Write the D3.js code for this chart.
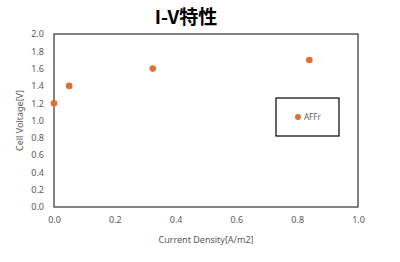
<!DOCTYPE html>
<html>
<head>
<meta charset="utf-8">
<script src="https://cdn.jsdelivr.net/npm/d3@7"></script>
<style>
  body { margin: 0; background: #fff; }
  svg { display: block; font-family: "Noto Sans", "Noto Sans CJK JP", sans-serif; }
</style>
</head>
<body>
<div id="chart"></div>
<script>
// Data
var seriesName = "AFFr";
var currentDensity = [0.0, 0.05, 0.325, 0.84];
var cellVoltage = [1.2, 1.4, 1.6, 1.7];
var xTicks = [0.0, 0.2, 0.4, 0.6, 0.8, 1.0];
var yTicks = [0.0, 0.2, 0.4, 0.6, 0.8, 1.0, 1.2, 1.4, 1.6, 1.8, 2.0];

var svgWidth = 400;
var svgHeight = 262;
var margin = { top: 34, right: 42, bottom: 55, left: 54 };
var width = 358 - margin.left;
var height = 207 - margin.top;

var svg = d3.select("#chart")
    .append("svg")
    .attr("width", svgWidth)
    .attr("height", svgHeight);

var chartGroup = svg.append("g")
    .attr("transform", `translate(${margin.left}, ${margin.top})`);

var xScale = d3.scaleLinear().domain([0, 1]).range([0, width]);
var yScale = d3.scaleLinear().domain([0, 2]).range([height, 0]);

// plot border
chartGroup.append("rect")
    .attr("width", width)
    .attr("height", height)
    .attr("fill", "none")
    .attr("stroke", "#404040")
    .attr("stroke-width", 1.3);

// axes (labels only)
var bottomAxis = d3.axisBottom(xScale).tickValues(xTicks).tickFormat(d3.format(".1f")).tickSize(0).tickPadding(10);
var leftAxis = d3.axisLeft(yScale).tickValues(yTicks).tickFormat(d3.format(".1f")).tickSize(0).tickPadding(10);

var xAxisG = chartGroup.append("g")
    .attr("transform", `translate(0, ${height})`)
    .call(bottomAxis);
var yAxisG = chartGroup.append("g").call(leftAxis);

[xAxisG, yAxisG].forEach(function(g) {
    g.select(".domain").remove();
    g.selectAll("text")
        .attr("fill", "#595959")
        .attr("font-size", "9px")
        .attr("font-family", "Noto Sans, sans-serif");
});

// points
chartGroup.selectAll("circle.pt")
    .data(currentDensity)
    .enter()
    .append("circle")
    .attr("class", "pt")
    .attr("cx", (d, i) => xScale(d))
    .attr("cy", (d, i) => yScale(cellVoltage[i]))
    .attr("r", 3.3)
    .attr("fill", "#E07030");

// title
svg.append("text")
    .attr("x", 186)
    .attr("y", 24)
    .attr("text-anchor", "middle")
    .attr("font-size", "19px")
    .attr("font-weight", "bold")
    .attr("font-family", "Noto Sans CJK JP, sans-serif")
    .attr("fill", "#000")
    .text("I-V特性");

// axis titles
svg.append("text")
    .attr("x", 206)
    .attr("y", 243)
    .attr("text-anchor", "middle")
    .attr("font-size", "9px")
    .attr("fill", "#595959")
    .text("Current Density[A/m2]");

svg.append("text")
    .attr("transform", `translate(23, ${margin.top + height / 2}) rotate(-90)`)
    .attr("text-anchor", "middle")
    .attr("font-size", "9px")
    .attr("fill", "#595959")
    .text("Cell Voltage[V]");

// legend
var legend = svg.append("g").attr("transform", "translate(276, 98)");
legend.append("rect")
    .attr("width", 63)
    .attr("height", 38)
    .attr("fill", "#fff")
    .attr("stroke", "#000")
    .attr("stroke-width", 1.2);
legend.append("circle")
    .attr("cx", 22)
    .attr("cy", 19)
    .attr("r", 3)
    .attr("fill", "#E07030");
legend.append("text")
    .attr("x", 28)
    .attr("y", 22)
    .attr("font-size", "8px")
    .attr("fill", "#595959")
    .text(seriesName);
</script>
</body>
</html>
